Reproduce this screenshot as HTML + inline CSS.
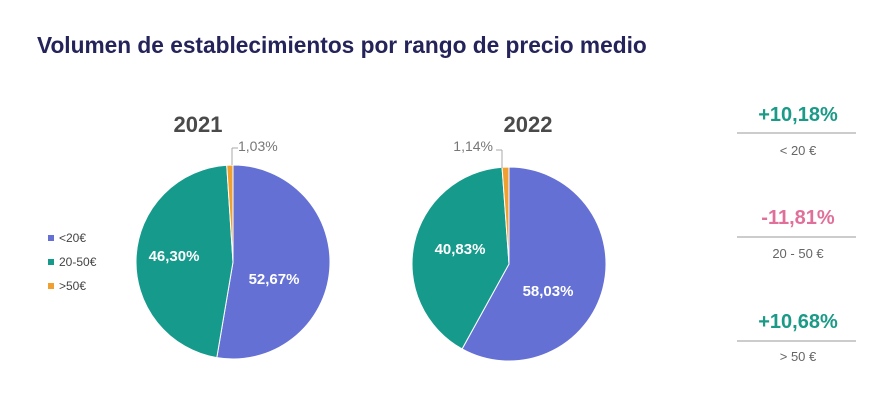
<!DOCTYPE html>
<html><head><meta charset="utf-8"><style>
html,body{margin:0;padding:0;background:#fff;}
body{width:895px;height:411px;overflow:hidden;font-family:"Liberation Sans","DejaVu Sans",sans-serif;}
</style></head><body>
<svg id="s" width="895" height="411" xmlns="http://www.w3.org/2000/svg" font-family="Liberation Sans, DejaVu Sans, sans-serif">
<text x="37" y="53" font-size="22.7" font-weight="bold" fill="#25245a">Volumen de establecimientos por rango de precio medio</text>
<text x="198" y="132" font-size="22" font-weight="bold" fill="#4a4a4a" text-anchor="middle">2021</text>
<text x="528" y="132" font-size="22" font-weight="bold" fill="#4a4a4a" text-anchor="middle">2022</text>
<g id="p1"></g><g id="p2"></g>
<line x1="232" y1="165" x2="232" y2="148" stroke="#aaa" stroke-width="1"/>
<line x1="232" y1="148" x2="238" y2="148" stroke="#aaa" stroke-width="1"/>
<text x="238" y="151" font-size="14" fill="#777">1,03%</text>
<line x1="502" y1="168" x2="502" y2="150" stroke="#aaa" stroke-width="1"/>
<line x1="496" y1="150" x2="502" y2="150" stroke="#aaa" stroke-width="1"/>
<text x="493" y="151" font-size="14" fill="#777" text-anchor="end">1,14%</text>
<text x="174" y="261" font-size="15" font-weight="bold" fill="#fff" text-anchor="middle">46,30%</text>
<text x="274" y="284" font-size="15" font-weight="bold" fill="#fff" text-anchor="middle">52,67%</text>
<text x="460" y="254" font-size="15" font-weight="bold" fill="#fff" text-anchor="middle">40,83%</text>
<text x="548" y="296" font-size="15" font-weight="bold" fill="#fff" text-anchor="middle">58,03%</text>
<rect x="48" y="235" width="6" height="6" fill="#6470d4"/><text x="59" y="242" font-size="12" fill="#444">&lt;20€</text>
<rect x="48" y="259" width="6" height="6" fill="#159a8c"/><text x="59" y="266" font-size="12" fill="#444">20-50€</text>
<rect x="48" y="283" width="6" height="6" fill="#f0a030"/><text x="59" y="290" font-size="12" fill="#444">&gt;50€</text>
<g text-anchor="middle">
<text x="798" y="121" font-size="20" font-weight="bold" fill="#1a9a87">+10,18%</text>
<line x1="737" y1="133" x2="856" y2="133" stroke="#999"/>
<text x="798" y="155" font-size="13" fill="#666">&lt; 20 €</text>
<text x="798" y="224" font-size="20" font-weight="bold" fill="#e0709a">-11,81%</text>
<line x1="737" y1="237" x2="856" y2="237" stroke="#999"/>
<text x="798" y="258" font-size="13" fill="#666">20 - 50 €</text>
<text x="798" y="328" font-size="20" font-weight="bold" fill="#1a9a87">+10,68%</text>
<line x1="737" y1="341" x2="856" y2="341" stroke="#999"/>
<text x="798" y="361" font-size="13" fill="#666">&gt; 50 €</text>
</g>
</svg>
<script>
function pie(id,cx,cy,r,vals,cols){
 var g=document.getElementById(id),a=0,h="";
 for(var i=0;i<vals.length;i++){
  var a2=a+vals[i]/100*2*Math.PI;
  var x1=cx+r*Math.sin(a),y1=cy-r*Math.cos(a),x2=cx+r*Math.sin(a2),y2=cy-r*Math.cos(a2);
  var lg=(a2-a)>Math.PI?1:0;
  h+='<path d="M'+cx+','+cy+' L'+x1+','+y1+' A'+r+','+r+' 0 '+lg+' 1 '+x2+','+y2+' Z" fill="'+cols[i]+'" stroke="#fff" stroke-width="1"/>';
  a=a2;
 }
 g.innerHTML=h;
}
var c=["#6470d4","#159a8c","#f0a030"];
pie("p1",233,262,97,[52.67,46.30,1.03],c);
pie("p2",509,264,97,[58.03,40.83,1.14],c);
</script>
</body></html>
